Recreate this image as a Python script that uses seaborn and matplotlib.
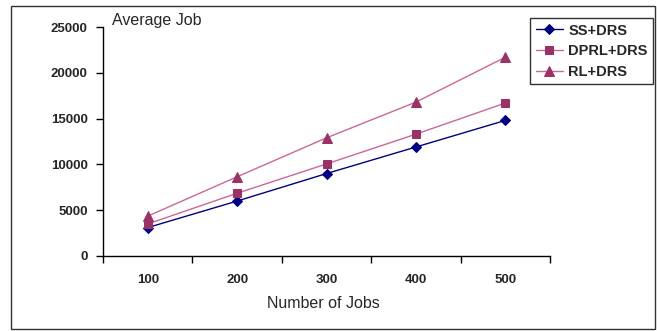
import matplotlib
matplotlib.use("Agg")
import matplotlib.pyplot as plt
import seaborn as sns
import pandas as pd
import numpy as np
from matplotlib.patches import Rectangle

categories = ["100", "200", "300", "400", "500"]
ss_drs = [3100, 6000, 9000, 11900, 14800]
dprl_drs = [3500, 6850, 10050, 13300, 16700]
rl_drs = [4350, 8650, 12900, 16800, 21700]
series_names = ["SS+DRS", "DPRL+DRS", "RL+DRS"]
y_ticks = [0, 5000, 10000, 15000, 20000, 25000]

sns.set_theme(style="white")
plt.rcParams['font.family'] = ['Liberation Sans', 'DejaVu Sans']

fig = plt.figure(figsize=(6.57, 3.31), dpi=100)
ax = fig.add_axes([103/657, 1-256/331, (550-103)/657, (256-27)/331])

pos = np.arange(len(categories))
styles = [
    (ss_drs, "#000080", "#000080", "D", 5),
    (dprl_drs, "#CC6699", "#993366", "s", 5.5),
    (rl_drs, "#CC6699", "#993366", "^", 6.5),
]
for name, (vals, lc, mc, mk, ms) in zip(series_names, styles):
    df = pd.DataFrame({"x": pos, "y": vals})
    sns.lineplot(data=df, x="x", y="y", ax=ax, color=lc, marker=mk,
                 markersize=ms, markerfacecolor=mc, markeredgecolor=mc,
                 linewidth=1.0, label=name)

ax.set_xlim(-0.5, len(categories) - 0.5)
ax.set_ylim(0, 25000)
ax.set_yticks(y_ticks)
ax.set_yticklabels([str(v) for v in y_ticks], fontsize=9.5, fontweight="bold")
ax.set_xticks(np.arange(-0.5, len(categories), 1.0))
ax.set_xticklabels([])
ax.set_xticks(pos, minor=True)
ax.set_xticklabels(categories, minor=True, fontsize=9.5, fontweight="bold")
ax.tick_params(axis="x", which="major", direction="out", length=5, width=1, color="black", bottom=True)
ax.tick_params(axis="x", which="minor", length=0, pad=13)
ax.tick_params(axis="y", direction="out", length=5, width=1, color="black", left=True, pad=6)
for s in ["top", "right"]:
    ax.spines[s].set_visible(False)
for s in ["left", "bottom"]:
    ax.spines[s].set_color("black")
    ax.spines[s].set_linewidth(1.0)
ax.set_xlabel("")
ax.set_ylabel("")
ax.grid(False)

fig.text(112/657, 1-20/331, "Average Job", fontsize=11.5, va="center", ha="left")
fig.text(323/657, 1-304/331, "Number of Jobs", fontsize=11.5, va="center", ha="center")

leg = ax.legend(loc="upper left", bbox_to_anchor=(530/657, 1-18/331),
                bbox_transform=fig.transFigure, frameon=True, fancybox=False,
                prop={"size": 10.5, "weight": "bold"}, handlelength=1.9,
                borderpad=0.38, labelspacing=0.45, handletextpad=0.35, borderaxespad=0)
leg.get_frame().set_edgecolor("black")
leg.get_frame().set_linewidth(1.0)

fig.patches.append(Rectangle((11/657, 2/331), 644/657, 323/331, transform=fig.transFigure,
                             fill=False, edgecolor="#333333", linewidth=1.0))

fig.savefig("out.png", dpi=100)
